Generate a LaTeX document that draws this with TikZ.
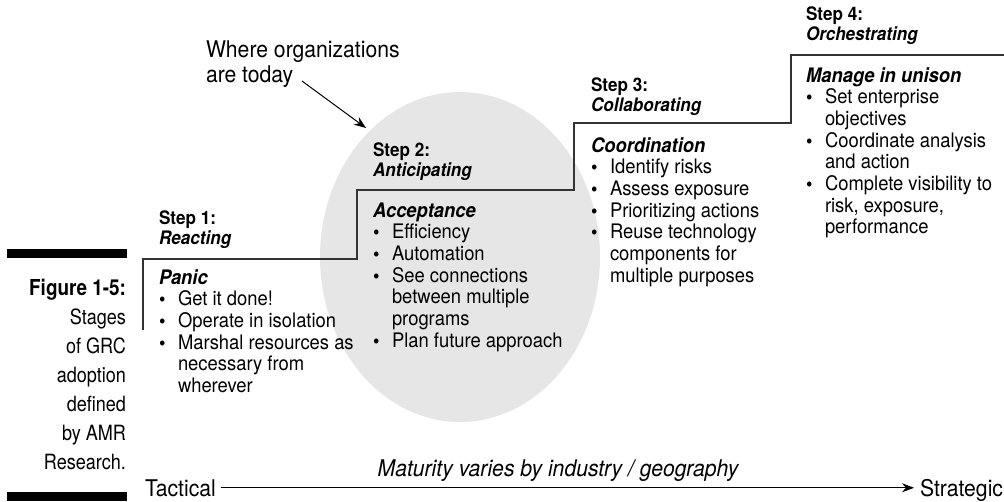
\documentclass[tikz,border=0pt]{standalone}
\usepackage{fontspec}
\setmainfont{TeX Gyre Heros}[FakeStretch=0.92]
\newfontfamily\narrowfont{TeX Gyre Heros}[FakeStretch=0.86]
\usetikzlibrary{arrows.meta}
\definecolor{ovalgray}{HTML}{E6E6E6}
\definecolor{linegray}{HTML}{333333}
\newcommand\bu{\makebox[19pt][l]{\bfseries\textbullet}}
\tikzset{
  txt/.style={inner sep=0pt, outer sep=0pt, font=\fontsize{20}{21.7}\selectfont},
  head/.style={inner sep=0pt, outer sep=0pt, font=\fontsize{18.6}{20.5}\selectfont\bfseries},
  capt/.style={inner sep=0pt, outer sep=0pt, font=\narrowfont\fontsize{21}{29}\selectfont},
  big/.style={inner sep=0pt, outer sep=0pt, font=\fontsize{23}{25}\selectfont},
  steppath/.style={draw=linegray, line width=1.5pt},
  pointer/.style={draw=black, line width=1pt, -{Stealth[length=12pt,width=9pt]}},
}
\begin{document}
\begin{tikzpicture}[x=1pt,y=-1pt]
\useasboundingbox (0,0) rectangle (1004,501);
% gray oval
\fill[ovalgray] (460,257) ellipse [x radius=140, y radius=165];
% staircase
\draw[steppath] (143,330) -- (143,259) -- (357,259) -- (357,190) -- (574,190) -- (574,123) -- (791,123) -- (791,55) -- (1004,55);
% left caption
\fill[black] (7,249) rectangle (127,258);
\fill[black] (7,492) rectangle (127,501);
\node[capt, anchor=base east] (cap) at (126,295) {\begin{tabular}[t]{@{}r@{}}{\fontsize{22}{29}\selectfont\bfseries Figure 1-5:}\\ Stages\\ of GRC\\ adoption\\ defined\\ by AMR\\ Research.\end{tabular}};
% where organizations
\node[big, anchor=base west] (where) at (206,57) {\begin{tabular}[t]{@{}l@{}}Where organizations\\ are today\end{tabular}};
\coordinate (arrS) at (302,81);
\coordinate (arrE) at (366,128);
\draw[pointer] (arrS) -- (arrE);
% Step 1
\node[head, anchor=base west] (h1) at (159,224) {\begin{tabular}[t]{@{}l@{}}Step 1:\\ \itshape Reacting\end{tabular}};
\node[txt, anchor=base west] (b1) at (159,284) {\begin{tabular}[t]{@{}l@{}l@{}}\multicolumn{2}{@{}l@{}}{\bfseries\itshape Panic}\\ \bu & Get it done!\\ \bu & Operate in isolation\\ \bu & Marshal resources as\\ & necessary from\\ & wherever\end{tabular}};
% Step 2
\node[head, anchor=base west] (h2) at (373,156) {\begin{tabular}[t]{@{}l@{}}Step 2:\\ \itshape Anticipating\end{tabular}};
\node[txt, anchor=base west] (b2) at (373,217) {\begin{tabular}[t]{@{}l@{}l@{}}\multicolumn{2}{@{}l@{}}{\bfseries\itshape Acceptance}\\ \bu & Efficiency\\ \bu & Automation\\ \bu & See connections\\ & between multiple\\ & programs\\ \bu & Plan future approach\end{tabular}};
% Step 3
\node[head, anchor=base west] (h3) at (591,91) {\begin{tabular}[t]{@{}l@{}}Step 3:\\ \itshape Collaborating\end{tabular}};
\node[txt, anchor=base west] (b3) at (591,152) {\begin{tabular}[t]{@{}l@{}l@{}}\multicolumn{2}{@{}l@{}}{\bfseries\itshape Coordination}\\ \bu & Identify risks\\ \bu & Assess exposure\\ \bu & Prioritizing actions\\ \bu & Reuse technology\\ & components for\\ & multiple purposes\end{tabular}};
% Step 4
\node[head, anchor=base west] (h4) at (806,20) {\begin{tabular}[t]{@{}l@{}}Step 4:\\ \itshape Orchestrating\end{tabular}};
\node[txt, anchor=base west] (b4) at (806,82) {\begin{tabular}[t]{@{}l@{}l@{}}\multicolumn{2}{@{}l@{}}{\bfseries\itshape Manage in unison}\\ \bu & Set enterprise\\ & objectives\\ \bu & Coordinate analysis\\ & and action\\ \bu & Complete visibility to\\ & risk, exposure,\\ & performance\end{tabular}};
% bottom axis
\node[big, anchor=base west] (tac) at (145,496) {Tactical};
\node[big, anchor=base east] (str) at (1003,496) {Strategic};
\node[big, anchor=base, font=\fontsize{23}{25}\selectfont\itshape] (mat) at (558,476) {Maturity varies by industry / geography};
\draw[pointer] ([xshift=5pt]tac.east) -- ([xshift=-6pt]tac.east -| str.west);
\end{tikzpicture}
\end{document}
